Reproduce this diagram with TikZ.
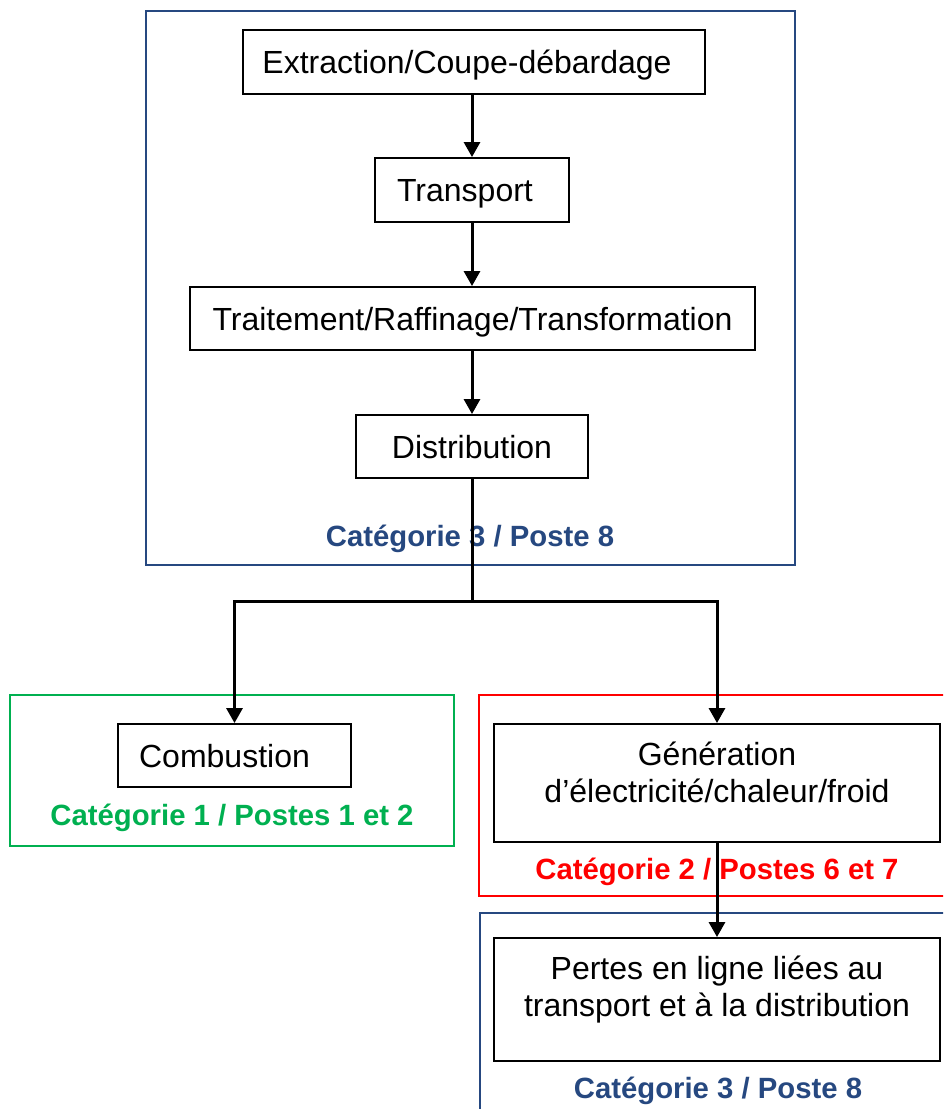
\documentclass[tikz,border=0pt]{standalone}
\usepackage{fontspec}
\setmainfont{Liberation Sans}
\usetikzlibrary{arrows.meta}
\definecolor{catblue}{RGB}{38,72,128}
\definecolor{catgreen}{RGB}{0,176,80}
\definecolor{catred}{RGB}{255,0,0}
\begin{document}
\begin{tikzpicture}[x=1pt,y=-1pt,
  box/.style={draw=black,line width=1.9pt,inner sep=0pt,text height=28pt,text depth=5pt,font=\fontsize{32}{37}\selectfont},
  txt/.style={inner sep=0pt,align=center,font=\fontsize{32}{37}\selectfont},
  cat/.style={inner sep=0pt,font=\fontsize{29.3}{35}\selectfont\bfseries},
  frame/.style={line width=1.6pt},
  conn/.style={line width=3pt,draw=black},
  arr/.style={conn,-{Triangle[width=16pt,length=15pt]}}]
\useasboundingbox (0,0) rectangle (943,1109);
\clip (0,0) rectangle (943,1109);

% category frames
\draw[frame,catblue] (146,11) rectangle (795,565);
\draw[frame,catgreen] (10,695) rectangle (454,846);
\draw[frame,catred] (479,695) rectangle (970,896);
\draw[frame,catblue] (480,913) rectangle (970,1140);

% boxes
\node[box,minimum width=462pt,minimum height=64pt] (ext) at (474,62) {Extraction/Coupe-débardage\kern14pt};
\node[box,minimum width=194pt,minimum height=64pt] (trans) at (472,190) {Transport\kern14pt};
\node[box,minimum width=565pt,minimum height=63pt] (trait) at (472.5,318.5) {Traitement/Raffinage/Transformation};
\node[box,minimum width=232pt,minimum height=63pt] (dist) at (472,446.5) {Distribution};
\node[box,minimum width=233pt,minimum height=63pt] (comb) at (234.5,755.5) {Combustion\kern20pt};
\node[box,minimum width=446pt,minimum height=118pt] (gen) at (717,783) {};
\node[txt] (gentxt) at (717,772) {Génération\\d’électricité/chaleur/froid};
\node[box,minimum width=446pt,minimum height=123pt] (pertes) at (717,999.5) {};
\node[txt] (pertestxt) at (717,990) {Pertes en ligne liées au\\transport et à la distribution};

% category labels
\node[cat,text=catblue] (cat3a) at (470,539) {Catégorie 3 / Poste 8};
\node[cat,text=catgreen] (cat1) at (232,818) {Catégorie 1 / Postes 1 et 2};
\node[cat,text=catred] (cat2) at (717,872) {Catégorie 2 / Postes 6 et 7};
\node[cat,text=catblue] (cat3b) at (718,1091) {Catégorie 3 / Poste 8};

% connectors
\coordinate (split) at (dist.south |- 0,601);
\draw[arr] (trans.north |- ext.south) -- (trans.north);
\draw[arr] (trans.south) -- (trans.south |- trait.north);
\draw[arr] (dist.north |- trait.south) -- (dist.north);
\draw[conn] (dist.south) -- (split);
\draw[arr] (split) -| (comb.north);
\draw[arr] (split) -| (gen.north);
\draw[arr] (gen.south) -- (pertes.north);
\end{tikzpicture}
\end{document}
